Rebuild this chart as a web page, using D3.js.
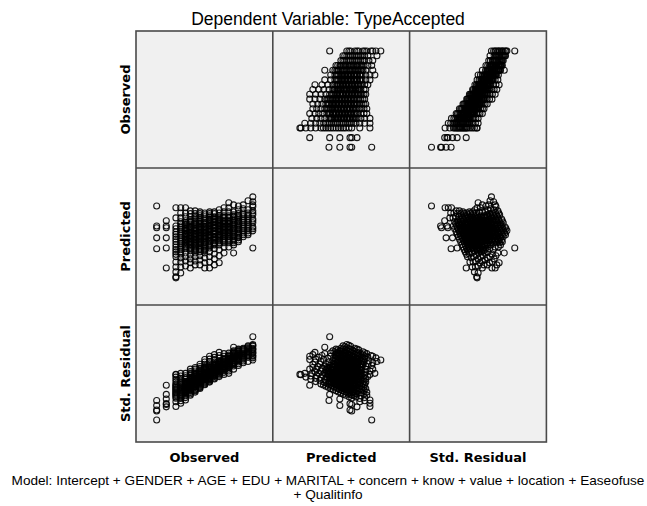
<!DOCTYPE html>
<html>
<head>
<meta charset="utf-8">
<script src="https://d3js.org/d3.v7.min.js"></script>
<style>
  body { margin: 0; background: #fff; }
</style>
</head>
<body>
<div id="chart"></div>
<script>
// variables of the scatterplot matrix (rows and columns in this order)
var variables = ["Observed", "Predicted", "Std. Residual"];

// one entry per case, grouped by observed level
var observed = [
  5,5,5,5,5,5,5,5,5,5,
  4.8,4.8,4.8,4.8,4.8,4.8,4.8,4.8,
  4.6,4.6,4.6,4.6,4.6,4.6,4.6,4.6,4.6,
  4.4,4.4,4.4,4.4,4.4,4.4,4.4,4.4,4.4,4.4,
  4.2,4.2,4.2,4.2,4.2,4.2,4.2,4.2,4.2,4.2,4.2,
  4,4,4,4,4,4,4,4,4,4,4,4,4,
  3.8,3.8,3.8,3.8,3.8,3.8,3.8,3.8,3.8,3.8,3.8,3.8,3.8,
  3.6,3.6,3.6,3.6,3.6,3.6,3.6,3.6,3.6,3.6,3.6,3.6,3.6,3.6,3.6,
  3.4,3.4,3.4,3.4,3.4,3.4,3.4,3.4,3.4,3.4,3.4,3.4,3.4,3.4,3.4,3.4,
  3.2,3.2,3.2,3.2,3.2,3.2,3.2,3.2,3.2,3.2,3.2,3.2,3.2,3.2,3.2,3.2,3.2,
  3,3,3,3,3,3,3,3,3,3,3,3,3,3,3,3,3,3,
  2.8,2.8,2.8,2.8,2.8,2.8,2.8,2.8,2.8,2.8,2.8,2.8,2.8,2.8,2.8,2.8,2.8,2.8,
  2.6,2.6,2.6,2.6,2.6,2.6,2.6,2.6,2.6,2.6,2.6,2.6,2.6,2.6,2.6,2.6,2.6,2.6,
  2.4,2.4,2.4,2.4,2.4,2.4,2.4,2.4,2.4,2.4,2.4,2.4,2.4,2.4,2.4,2.4,2.4,2.4,
  2.2,2.2,2.2,2.2,2.2,2.2,2.2,2.2,2.2,2.2,2.2,2.2,2.2,2.2,2.2,2.2,2.2,
  2,2,2,2,2,2,2,2,2,2,2,2,2,2,2,2,
  1.8,1.8,1.8,1.8,1.8,1.8,1.8,1.8,1.8,1.8,1.8,1.8,1.8,1.8,
  1.4,1.4,1.4,1.4,1.4,1.4,
  1,1,1,1,1,
  // cases in the dense middle of each level
  5,5,5,5,
  4.8,4.8,4.8,4.8,4.8,4.8,
  4.6,4.6,4.6,4.6,4.6,4.6,
  4.4,4.4,4.4,4.4,4.4,4.4,4.4,
  4.2,4.2,4.2,4.2,4.2,4.2,4.2,4.2,
  4,4,4,4,4,4,4,4,
  3.8,3.8,3.8,3.8,3.8,3.8,3.8,3.8,
  3.6,3.6,3.6,3.6,3.6,3.6,3.6,3.6,3.6,
  3.4,3.4,3.4,3.4,3.4,3.4,3.4,3.4,3.4,
  3.2,3.2,3.2,3.2,3.2,3.2,3.2,3.2,3.2,3.2,
  3,3,3,3,3,3,3,3,3,
  2.8,2.8,2.8,2.8,2.8,2.8,2.8,2.8,2.8,2.8,
  2.6,2.6,2.6,2.6,2.6,2.6,2.6,2.6,2.6,2.6,
  2.4,2.4,2.4,2.4,2.4,2.4,2.4,2.4,2.4,2.4,
  2.2,2.2,2.2,2.2,2.2,2.2,2.2,2.2,2.2,
  2,2,2,2,2,2,2,2,
  1.8,1.8,1.8,1.8,1.8,1.8,
  // more cases in the black core
  4.4,4.4,4.4,4.4,4.4,4.4,
  4.2,4.2,4.2,4.2,4.2,4.2,4.2,
  4,4,4,4,4,4,4,4,
  3.8,3.8,3.8,3.8,3.8,3.8,3.8,3.8,
  3.6,3.6,3.6,3.6,3.6,3.6,3.6,3.6,
  3.4,3.4,3.4,3.4,3.4,3.4,3.4,3.4,3.4,
  3.2,3.2,3.2,3.2,3.2,3.2,3.2,3.2,3.2,
  3,3,3,3,3,3,3,3,3,
  2.8,2.8,2.8,2.8,2.8,2.8,2.8,2.8,2.8,
  2.6,2.6,2.6,2.6,2.6,2.6,2.6,2.6,2.6,
  2.4,2.4,2.4,2.4,2.4,2.4,2.4,2.4,
  2.2,2.2,2.2,2.2,2.2,2.2,2.2,2.2
];

var predicted = [
  2.71,3.20,3.31,3.43,3.54,3.66,3.77,3.89,4.03,4.17,
  3.09,3.20,3.31,3.43,3.54,3.66,3.80,4.06,
  3.03,3.14,3.26,3.37,3.49,3.60,3.71,3.83,3.94,
  2.89,3.00,3.11,3.23,3.34,3.46,3.57,3.69,3.80,3.91,
  2.57,2.80,2.91,3.03,3.14,3.26,3.37,3.49,3.60,3.74,3.94,
  2.74,2.86,2.97,3.09,3.17,3.26,3.34,3.43,3.51,3.63,3.74,3.86,4.00,
  2.57,2.74,2.86,2.97,3.09,3.17,3.26,3.34,3.43,3.51,3.63,3.74,3.86,
  2.29,2.49,2.66,2.80,2.91,3.03,3.11,3.20,3.29,3.37,3.46,3.54,3.63,3.71,3.80,
  2.23,2.40,2.54,2.69,2.80,2.91,3.00,3.09,3.17,3.26,3.34,3.43,3.51,3.60,3.69,3.74,
  2.14,2.31,2.46,2.60,2.71,2.83,2.94,3.03,3.11,3.20,3.29,3.37,3.46,3.54,3.63,3.69,3.74,
  2.14,2.29,2.43,2.57,2.69,2.80,2.91,3.00,3.09,3.17,3.26,3.34,3.43,3.49,3.54,3.60,3.66,3.71,
  2.23,2.37,2.49,2.60,2.71,2.83,2.91,3.00,3.09,3.17,3.26,3.34,3.43,3.51,3.57,3.63,3.69,3.74,
  2.23,2.34,2.46,2.57,2.69,2.80,2.89,2.97,3.06,3.14,3.23,3.31,3.40,3.49,3.57,3.63,3.69,3.77,
  2.14,2.29,2.40,2.51,2.63,2.74,2.83,2.91,3.00,3.09,3.17,3.26,3.34,3.43,3.51,3.60,3.69,3.77,
  2.20,2.34,2.46,2.57,2.69,2.80,2.89,2.97,3.06,3.14,3.23,3.31,3.40,3.49,3.60,3.71,3.86,
  2.00,2.17,2.31,2.43,2.54,2.66,2.77,2.89,3.00,3.11,3.23,3.34,3.46,3.57,3.71,3.86,
  1.86,1.89,2.03,2.17,2.31,2.46,2.60,2.74,2.89,3.03,3.17,3.34,3.57,3.86,
  2.14,2.71,3.00,3.29,3.34,3.49,
  2.69,3.00,3.29,3.34,3.91,
  // cases in the dense middle of each level
  3.26,3.49,3.71,3.94,
  3.14,3.26,3.37,3.49,3.60,3.71,
  3.09,3.20,3.31,3.43,3.54,3.66,
  2.94,3.06,3.17,3.29,3.40,3.51,3.63,
  2.86,2.97,3.09,3.20,3.31,3.43,3.54,3.66,
  2.91,3.03,3.13,3.21,3.30,3.39,3.47,3.57,
  2.91,3.03,3.13,3.21,3.30,3.39,3.47,3.57,
  2.86,2.97,3.07,3.16,3.24,3.33,3.41,3.50,3.59,
  2.86,2.96,3.04,3.13,3.21,3.30,3.39,3.47,3.56,
  2.77,2.89,2.99,3.07,3.16,3.24,3.33,3.41,3.50,3.59,
  2.63,2.74,2.86,2.96,3.04,3.13,3.21,3.30,3.39,
  2.66,2.77,2.87,2.96,3.04,3.13,3.21,3.30,3.39,3.47,
  2.63,2.74,2.84,2.93,3.01,3.10,3.19,3.27,3.36,3.44,
  2.69,2.79,2.87,2.96,3.04,3.13,3.21,3.30,3.39,3.47,
  2.74,2.84,2.93,3.01,3.10,3.19,3.27,3.36,3.44,
  2.60,2.71,2.83,2.94,3.06,3.17,3.29,3.40,
  2.53,2.67,2.81,2.96,3.10,3.26,
  // more cases in the black core
  3.02,3.14,3.26,3.37,3.48,3.60,
  2.94,3.06,3.17,3.28,3.40,3.51,3.62,
  2.94,3.05,3.15,3.24,3.32,3.41,3.49,3.59,
  2.94,3.05,3.15,3.24,3.32,3.41,3.49,3.59,
  2.93,3.01,3.09,3.18,3.26,3.35,3.43,3.52,
  2.83,2.93,3.02,3.11,3.19,3.28,3.36,3.45,3.53,
  2.80,2.91,3.01,3.09,3.18,3.26,3.35,3.43,3.52,
  2.66,2.77,2.88,2.98,3.06,3.15,3.23,3.32,3.41,
  2.68,2.79,2.89,2.98,3.07,3.15,3.24,3.32,3.41,
  2.66,2.77,2.87,2.95,3.04,3.12,3.21,3.29,3.38,
  2.71,2.81,2.90,2.98,3.07,3.15,3.24,3.32,
  2.76,2.87,2.95,3.04,3.12,3.21,3.29,3.38
];

var stdResidual = [
  2.86,2.25,2.11,1.96,1.83,1.68,1.54,1.39,1.21,1.04,
  2.14,2.00,1.86,1.71,1.58,1.43,1.25,0.93,
  1.96,1.83,1.68,1.54,1.39,1.25,1.11,0.96,0.83,
  1.89,1.75,1.61,1.46,1.33,1.18,1.04,0.89,0.75,0.61,
  2.04,1.75,1.61,1.46,1.33,1.18,1.04,0.89,0.75,0.58,0.33,
  1.58,1.43,1.29,1.14,1.04,0.93,0.83,0.71,0.61,0.46,0.33,0.18,0.00,
  1.54,1.33,1.18,1.04,0.89,0.79,0.68,0.58,0.46,0.36,0.21,0.08,-0.08,
  1.64,1.39,1.18,1.00,0.86,0.71,0.61,0.50,0.39,0.29,0.18,0.08,-0.04,-0.14,-0.25,
  1.46,1.25,1.08,0.89,0.75,0.61,0.50,0.39,0.29,0.18,0.08,-0.04,-0.14,-0.25,-0.36,-0.43,
  1.33,1.11,0.93,0.75,0.61,0.46,0.33,0.21,0.11,0.00,-0.11,-0.21,-0.33,-0.43,-0.54,-0.61,-0.68,
  1.08,0.89,0.71,0.54,0.39,0.25,0.11,0.00,-0.11,-0.21,-0.33,-0.43,-0.54,-0.61,-0.68,-0.75,-0.83,-0.89,
  0.71,0.54,0.39,0.25,0.11,-0.04,-0.14,-0.25,-0.36,-0.46,-0.58,-0.68,-0.79,-0.89,-0.96,-1.04,-1.11,-1.18,
  0.46,0.33,0.18,0.04,-0.11,-0.25,-0.36,-0.46,-0.58,-0.68,-0.79,-0.89,-1.00,-1.11,-1.21,-1.29,-1.36,-1.46,
  0.33,0.14,0.00,-0.14,-0.29,-0.43,-0.54,-0.64,-0.75,-0.86,-0.96,-1.08,-1.18,-1.29,-1.39,-1.50,-1.61,-1.71,
  0.00,-0.18,-0.33,-0.46,-0.61,-0.75,-0.86,-0.96,-1.08,-1.18,-1.29,-1.39,-1.50,-1.61,-1.75,-1.89,-2.08,
  0.00,-0.21,-0.39,-0.54,-0.68,-0.83,-0.96,-1.11,-1.25,-1.39,-1.54,-1.68,-1.83,-1.96,-2.14,-2.33,
  -0.08,-0.11,-0.29,-0.46,-0.64,-0.83,-1.00,-1.18,-1.36,-1.54,-1.71,-1.93,-2.21,-2.58,
  -0.93,-1.64,-2.00,-2.36,-2.43,-2.61,
  -2.11,-2.50,-2.86,-2.93,-3.64,
  // cases in the dense middle of each level
  2.18,1.89,1.61,1.33,
  2.08,1.93,1.79,1.64,1.50,1.36,
  1.89,1.75,1.61,1.46,1.33,1.18,
  1.83,1.68,1.54,1.39,1.25,1.11,0.96,
  1.68,1.54,1.39,1.25,1.11,0.96,0.83,0.68,
  1.36,1.21,1.09,0.99,0.88,0.76,0.66,0.54,
  1.11,0.96,0.84,0.74,0.63,0.51,0.41,0.29,
  0.93,0.79,0.66,0.55,0.45,0.34,0.24,0.13,0.01,
  0.68,0.55,0.45,0.34,0.24,0.13,0.01,-0.09,-0.20,
  0.54,0.39,0.26,0.16,0.05,-0.05,-0.16,-0.26,-0.38,-0.49,
  0.46,0.33,0.18,0.05,-0.05,-0.16,-0.26,-0.38,-0.49,
  0.18,0.04,-0.09,-0.20,-0.30,-0.41,-0.51,-0.63,-0.74,-0.84,
  -0.04,-0.18,-0.30,-0.41,-0.51,-0.63,-0.74,-0.84,-0.95,-1.05,
  -0.36,-0.49,-0.59,-0.70,-0.80,-0.91,-1.01,-1.13,-1.24,-1.34,
  -0.68,-0.80,-0.91,-1.01,-1.13,-1.24,-1.34,-1.45,-1.55,
  -0.75,-0.89,-1.04,-1.18,-1.33,-1.46,-1.61,-1.75,
  -0.91,-1.09,-1.26,-1.45,-1.63,-1.83,
  // more cases in the black core
  1.73,1.58,1.43,1.29,1.15,1.00,
  1.58,1.43,1.29,1.15,1.00,0.86,0.73,
  1.33,1.19,1.06,0.95,0.85,0.74,0.64,0.51,
  1.08,0.94,0.81,0.70,0.60,0.49,0.39,0.26,
  0.84,0.74,0.64,0.53,0.43,0.31,0.21,0.10,
  0.71,0.59,0.48,0.36,0.26,0.15,0.05,-0.06,-0.16,
  0.50,0.36,0.24,0.14,0.03,-0.08,-0.19,-0.29,-0.40,
  0.43,0.29,0.15,0.03,-0.08,-0.19,-0.29,-0.40,-0.51,
  0.15,0.01,-0.11,-0.23,-0.34,-0.44,-0.55,-0.65,-0.76,
  -0.08,-0.21,-0.34,-0.44,-0.55,-0.65,-0.76,-0.86,-0.98,
  -0.39,-0.51,-0.63,-0.73,-0.84,-0.94,-1.05,-1.15,
  -0.70,-0.84,-0.94,-1.05,-1.15,-1.26,-1.36,-1.48
];

var title = "Dependent Variable: TypeAccepted";
var footnote = [
  "Model: Intercept + GENDER + AGE + EDU + MARITAL + concern + know + value + location + Easeofuse",
  "+ Qualitinfo"
];

// page size and matrix placement
var width = 647, height = 506;
var gridLeft = 136, gridTop = 31, cellW = 136.8, cellH = 137;

// value range each variable spans inside a cell (SPSS pads the data range)
var domains = [[0.14, 5.83], [1.086, 4.992], [-5.35, 5.33]];
var columns = [observed, predicted, stdResidual];
var n = Math.min(observed.length, predicted.length, stdResidual.length);
var cases = d3.range(n);

var svg = d3.select("#chart").append("svg")
    .attr("width", width)
    .attr("height", height);

// title
svg.append("text")
    .attr("x", 328)
    .attr("y", 24.5)
    .attr("text-anchor", "middle")
    .style("font-family", "'Liberation Sans', Arial, sans-serif")
    .style("font-size", "17.5px")
    .style("fill", "#000")
    .text(title);

// cells
variables.forEach(function(rowVar, i) {
  variables.forEach(function(colVar, j) {
    var x0 = gridLeft + j * cellW, y0 = gridTop + i * cellH;
    var cell = svg.append("g");

    cell.append("rect")
        .attr("x", x0)
        .attr("y", y0)
        .attr("width", cellW)
        .attr("height", cellH)
        .style("fill", "#f0f0f0");

    if (i === j) return;

    var x = d3.scaleLinear().domain(domains[j]).range([x0, x0 + cellW]);
    var y = d3.scaleLinear().domain(domains[i]).range([y0 + cellH, y0]);

    cell.selectAll("circle")
        .data(cases)
      .enter().append("circle")
        .attr("cx", function(k) { return x(columns[j][k]); })
        .attr("cy", function(k) { return y(columns[i][k]); })
        .attr("r", 3)
        .style("fill", "none")
        .style("stroke", "#000")
        .style("stroke-opacity", 0.9)
        .style("stroke-width", 1.1);
  });
});

// grid lines on top of the points
var grid = svg.append("g")
    .style("stroke", "#4a4a4a")
    .style("stroke-width", 1.6)
    .style("fill", "none");

grid.append("rect")
    .attr("x", gridLeft)
    .attr("y", gridTop)
    .attr("width", cellW * 3)
    .attr("height", cellH * 3);

[1, 2].forEach(function(k) {
  grid.append("line")
      .attr("x1", gridLeft + k * cellW).attr("x2", gridLeft + k * cellW)
      .attr("y1", gridTop).attr("y2", gridTop + cellH * 3);
  grid.append("line")
      .attr("x1", gridLeft).attr("x2", gridLeft + cellW * 3)
      .attr("y1", gridTop + k * cellH).attr("y2", gridTop + k * cellH);
});

// variable names: bottom of each column, left of each row
var labelFont = "'DejaVu Sans', Verdana, sans-serif";

svg.selectAll(".colLabel")
    .data(variables)
  .enter().append("text")
    .attr("class", "colLabel")
    .attr("x", function(d, j) { return gridLeft + (j + 0.5) * cellW; })
    .attr("y", 462)
    .attr("text-anchor", "middle")
    .style("font-family", labelFont)
    .style("font-weight", "bold")
    .style("font-size", "13px")
    .text(function(d) { return d; });

svg.selectAll(".rowLabel")
    .data(variables)
  .enter().append("text")
    .attr("class", "rowLabel")
    .attr("transform", function(d, i) {
      return "translate(130," + (gridTop + (i + 0.5) * cellH) + ") rotate(-90)";
    })
    .attr("text-anchor", "middle")
    .style("font-family", labelFont)
    .style("font-weight", "bold")
    .style("font-size", "13px")
    .text(function(d) { return d; });

// model footnote
svg.selectAll(".footnote")
    .data(footnote)
  .enter().append("text")
    .attr("class", "footnote")
    .attr("x", 328)
    .attr("y", function(d, i) { return 485 + i * 14; })
    .attr("text-anchor", "middle")
    .style("font-family", "'Liberation Sans', Arial, sans-serif")
    .style("font-size", "13.6px")
    .text(function(d) { return d; });
</script>
</body>
</html>
